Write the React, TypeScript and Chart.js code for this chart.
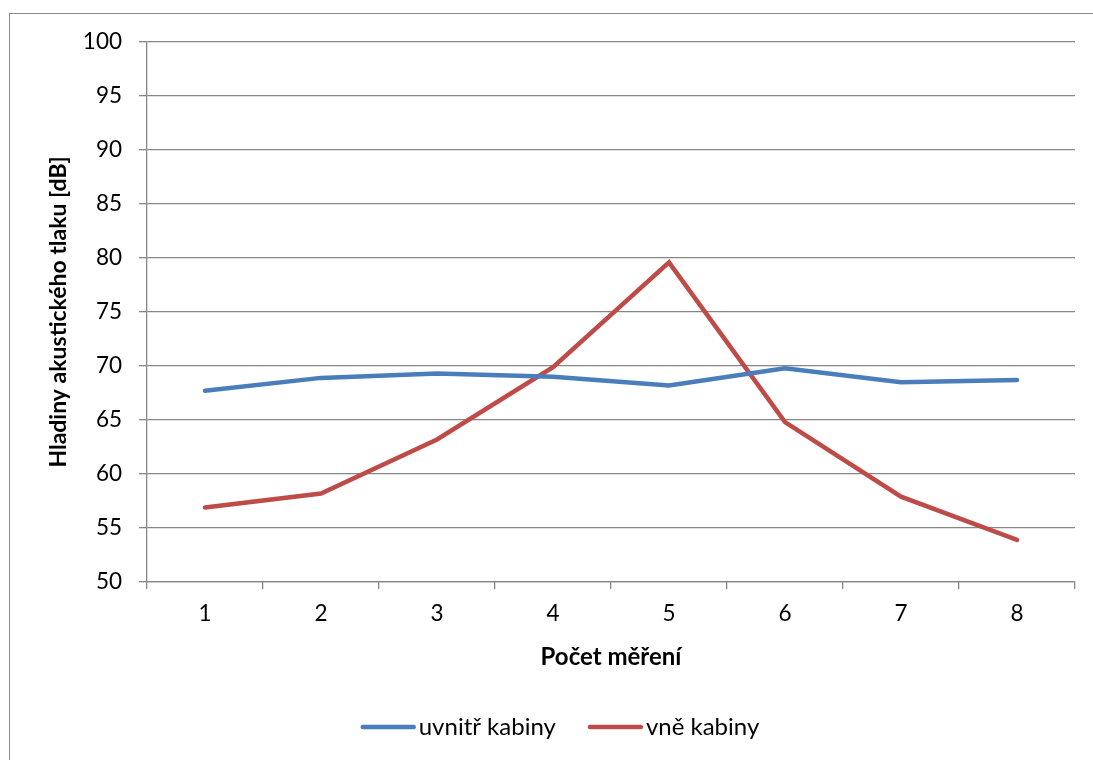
import React, { useEffect, useRef } from 'react';
import { Chart, registerables } from 'chart.js';

Chart.register(...registerables);

const categories = ['1', '2', '3', '4', '5', '6', '7', '8'];
const insideCabin = [67.7, 68.9, 69.3, 69.0, 68.2, 69.8, 68.5, 68.7];
const outsideCabin = [56.9, 58.2, 63.2, 69.9, 79.6, 64.8, 57.9, 53.9];
const seriesNames = ['uvnitř kabiny', 'vně kabiny'];
const seriesColors = ['#4A7EBB', '#BE4B48'];
const yMin = 50;
const yMax = 100;
const yStep = 5;
const xTitle = 'Počet měření';
const yTitle = 'Hladiny akustického tlaku [dB]';

const FONT = 'Lato';
const GRID = '#868686';

const framePlugin = {
  id: 'frameAndLegend',
  beforeDraw(chart: any) {
    const ctx = chart.ctx;
    ctx.save();
    ctx.strokeStyle = '#8c8c8c';
    ctx.lineWidth = 1;
    ctx.strokeRect(9.5, 13.5, 1200, 900);
    ctx.restore();
  },
  afterDraw(chart: any) {
    const ctx = chart.ctx;
    ctx.save();
    ctx.font = `24px ${FONT}`;
    const lineLen = 55;
    const gap = 3;
    const itemGap = 32;
    const items = chart.data.datasets.map((ds: any) => ({
      label: ds.label,
      color: ds.borderColor,
      w: ctx.measureText(ds.label).width,
    }));
    const total =
      items.reduce((a: number, it: any) => a + lineLen + gap + it.w, 0) +
      itemGap * (items.length - 1);
    let x = 560 - total / 2;
    const y = 727;
    ctx.textBaseline = 'middle';
    ctx.textAlign = 'left';
    for (const it of items) {
      ctx.strokeStyle = it.color;
      ctx.lineWidth = 4.5;
      ctx.lineCap = 'round';
      ctx.beginPath();
      ctx.moveTo(x + 2, y);
      ctx.lineTo(x + lineLen - 2, y);
      ctx.stroke();
      ctx.fillStyle = '#000';
      ctx.fillText(it.label, x + lineLen + gap, y);
      x += lineLen + gap + it.w + itemGap;
    }
    ctx.restore();
  },
};

export default function App() {
  const canvasRef = useRef<HTMLCanvasElement | null>(null);

  useEffect(() => {
    if (!canvasRef.current) return;
    const chart = new Chart(canvasRef.current, {
      type: 'line',
      data: {
        labels: categories,
        datasets: [
          {
            label: seriesNames[0],
            data: insideCabin,
            borderColor: seriesColors[0],
            backgroundColor: seriesColors[0],
            borderWidth: 4.5,
            borderCapStyle: 'round',
            pointRadius: 0,
            pointHoverRadius: 0,
            tension: 0,
          },
          {
            label: seriesNames[1],
            data: outsideCabin,
            borderColor: seriesColors[1],
            backgroundColor: seriesColors[1],
            borderWidth: 4.5,
            borderCapStyle: 'round',
            pointRadius: 0,
            pointHoverRadius: 0,
            tension: 0,
          },
        ],
      },
      options: {
        responsive: false,
        animation: false,
        events: [],
        layout: { padding: { left: 0, top: 42, right: 18, bottom: 78 } },
        plugins: {
          legend: { display: false },
          tooltip: { enabled: false },
        },
        scales: {
          x: {
            type: 'category',
            offset: true,
            grid: {
              offset: true,
              drawOnChartArea: false,
              drawTicks: true,
              tickLength: 7,
              color: GRID,
              lineWidth: 1.3,
            },
            border: { display: true, color: GRID, width: 1.3 },
            ticks: {
              color: '#000',
              font: { family: FONT, size: 22.5 },
              padding: 11,
              maxRotation: 0,
            },
            title: {
              display: true,
              text: xTitle,
              color: '#000',
              font: { family: FONT, size: 24, weight: 'bold' },
              padding: { top: 0, bottom: 10 },
            },
            afterFit(s: any) {
              s.height = 100;
              s.paddingLeft = 0;
              s.paddingRight = 0;
            },
          },
          y: {
            min: yMin,
            max: yMax,
            grid: {
              drawTicks: true,
              tickLength: 8,
              color: GRID,
              lineWidth: 1.3,
            },
            border: { display: true, color: GRID, width: 1.3 },
            ticks: {
              stepSize: yStep,
              color: '#000',
              font: { family: FONT, size: 22.5 },
              padding: 17,
            },
            title: {
              display: true,
              text: yTitle,
              color: '#000',
              font: { family: FONT, size: 23, weight: 'bold' },
              padding: { top: 45, bottom: 0 },
            },
            afterFit(s: any) {
              s.width = 147;
              s.paddingTop = 0;
              s.paddingBottom = 0;
            },
          },
        },
      },
      plugins: [framePlugin],
    });
    return () => chart.destroy();
  }, []);

  return (
    <div style={{ position: 'fixed', left: 0, top: 0, width: 1093, height: 760, background: '#fff' }}>
      <canvas ref={canvasRef} width={1093} height={760} />
    </div>
  );
}
